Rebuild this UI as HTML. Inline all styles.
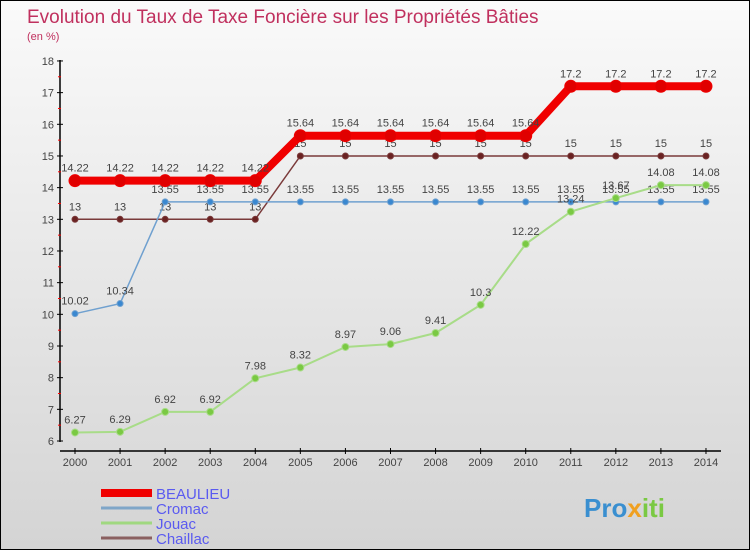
<!DOCTYPE html>
<html><head><meta charset="utf-8"><style>
body{margin:0}
#c{width:748px;height:548px;border:1px solid #000;background:linear-gradient(#fafafa,#d4d4d4);position:relative;overflow:hidden;font-family:"Liberation Sans",sans-serif}
</style></head><body>
<div id="c">
<svg id="s" width="748" height="548">
<text x="26" y="22" font-size="19" fill="#c0305e">Evolution du Taux de Taxe Foncière sur les Propriétés Bâties</text>
<text x="26" y="39" font-size="11" fill="#c0305e">(en %)</text>
<text x="583" y="516" font-size="26" font-weight="bold" fill="#3a8fd0">Pro<tspan fill="#f0a020">x</tspan><tspan fill="#7ac943">iti</tspan></text>
</svg>
</div>
<script>
const years=[2000,2001,2002,2003,2004,2005,2006,2007,2008,2009,2010,2011,2012,2013,2014];
const yTicks=[6,7,8,9,10,11,12,13,14,15,16,17,18];
const beaulieu=[14.22,14.22,14.22,14.22,14.22,15.64,15.64,15.64,15.64,15.64,15.64,17.2,17.2,17.2,17.2];
const cromac=[10.02,10.34,13.55,13.55,13.55,13.55,13.55,13.55,13.55,13.55,13.55,13.55,13.55,13.55,13.55];
const jouac=[6.27,6.29,6.92,6.92,7.98,8.32,8.97,9.06,9.41,10.3,12.22,13.24,13.67,14.08,14.08];
const chaillac=[13,13,13,13,13,15,15,15,15,15,15,15,15,15,15];
const seriesNames=["BEAULIEU","Cromac","Jouac","Chaillac"];
const NS="http://www.w3.org/2000/svg",s=document.getElementById('s');
const X=i=>74+45.07*i, Y=v=>440-(v-6)*31.67;
function mk(t,a,p){const e=document.createElementNS(NS,t);for(const k in a)e.setAttribute(k,a[k]);(p||s).appendChild(e);return e;}
let ax=mk('line',{x1:59,y1:59,x2:59,y2:441,stroke:'#000','stroke-width':1.5});


let xa=mk('line',{x1:59,y1:450,x2:720,y2:450,stroke:'#000','stroke-width':1.5});


yTicks.forEach(v=>{
 mk('line',{x1:56,x2:62,y1:Y(v),y2:Y(v),stroke:'#000'});
 if(v<18)mk('line',{x1:57,x2:60,y1:Y(v+0.5),y2:Y(v+0.5),stroke:'#f00'});
 const t=mk('text',{x:53,y:Y(v)+4,'font-size':11,'text-anchor':'end',fill:'#444'});t.textContent=v;
 
 
});
years.forEach((y,i)=>{
 mk('line',{x1:X(i),x2:X(i),y1:447,y2:453,stroke:'#000'});
 const t=mk('text',{x:X(i),y:465,'font-size':11,'text-anchor':'middle',fill:'#444'});t.textContent=y;
 
 
});
function series(d,col,w,r,fill,name,step){
 const g=mk('g',{});
 
 
 mk('polyline',{points:d.map((v,i)=>X(i)+','+Y(v)).join(' '),fill:'none',stroke:col,'stroke-width':w},g);
 d.forEach((v,i)=>{
  const c=mk('circle',{cx:X(i),cy:Y(v),r:r,fill:fill,stroke:col,'stroke-width':1},g);
  
  
  const t=mk('text',{x:X(i),y:Y(v)-9,'font-size':11,'text-anchor':'middle',fill:'#444'},g);t.textContent=v;
  
  
 });
}
series(chaillac,'#7a3a3a',1.5,3,'#6a2222','chaillac');
series(cromac,'#6fa0cf',1.5,3,'#3a88d0','cromac');
series(jouac,'#a8dc88',2,3.5,'#7ac943','jouac');
series(beaulieu,'#f00000',8,6,'#e00000','beaulieu');
const lc=['#f00000','#7fa6c8','#a0d880','#8a6060'],lw=[8,3,3,3];
seriesNames.forEach((n,i)=>{
 const yy=492+i*15;
 const l=mk('line',{x1:100,x2:151,y1:yy,y2:yy,stroke:lc[i],'stroke-width':lw[i]});
 
 
 const t=mk('text',{x:155,y:yy+6,'font-size':15,fill:'#5a5af0'});t.textContent=n;
 
 
});
</script>
</body></html>
